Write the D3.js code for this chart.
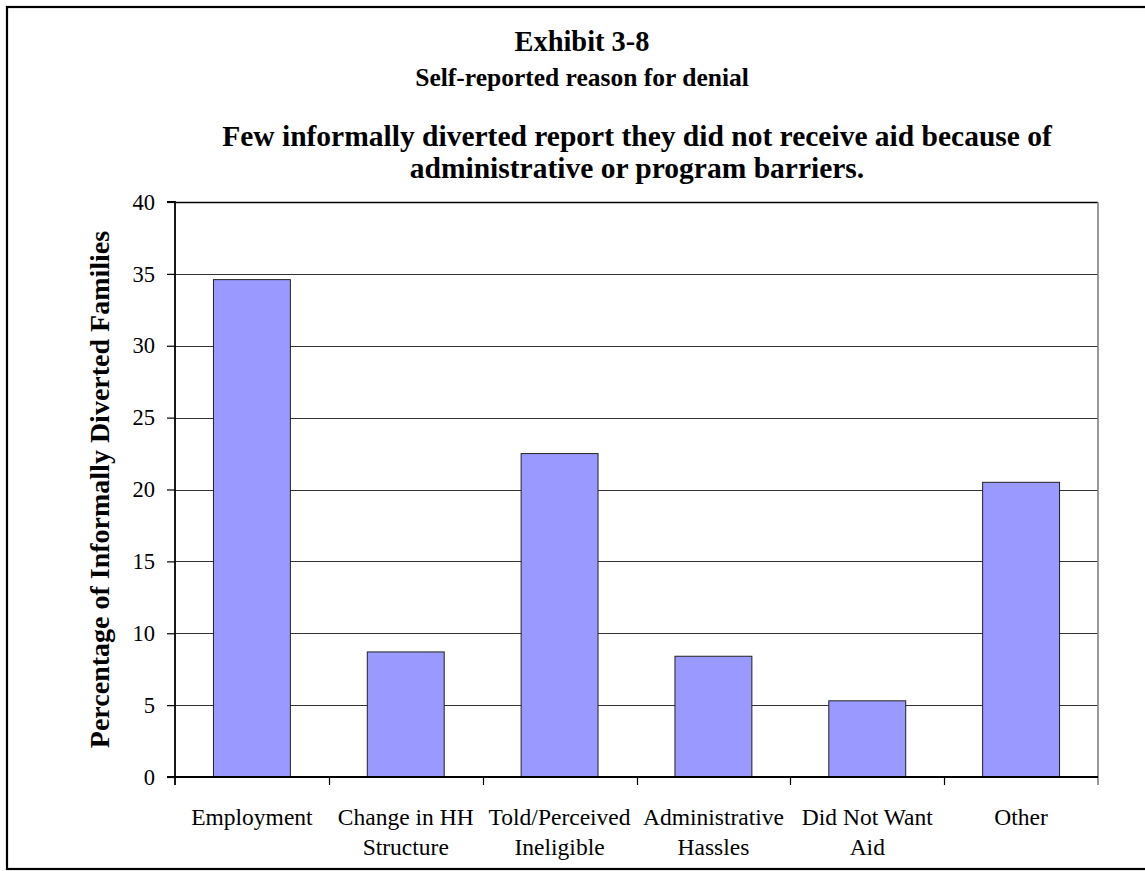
<!DOCTYPE html>
<html>
<head>
<meta charset="utf-8">
<script src="https://d3js.org/d3.v7.min.js"></script>
<style>
  html, body { margin: 0; padding: 0; background: #fff; overflow: hidden; }
  svg text { font-family: "Liberation Serif", "Times New Roman", serif; fill: #000; }
</style>
</head>
<body>
<svg id="chart" width="1145" height="871"></svg>
<script>
const categories = [
  ["Employment"],
  ["Change in HH", "Structure"],
  ["Told/Perceived", "Ineligible"],
  ["Administrative", "Hassles"],
  ["Did Not Want", "Aid"],
  ["Other"]
];
const values = [34.6, 8.7, 22.5, 8.4, 5.3, 20.5];
const yTicks = [0, 5, 10, 15, 20, 25, 30, 35, 40];
const exhibitTitle = "Exhibit 3-8";
const subTitle = "Self-reported reason for denial";
const chartTitle = ["Few informally diverted report they did not receive aid because of", "administrative or program barriers."];
const yAxisTitle = "Percentage of Informally Diverted Families";

const svg = d3.select("#chart");
const plot = { left: 175, right: 1098, top: 202, bottom: 777 };

// outer frame (right edge runs off the canvas as in the reference)
svg.append("rect").attr("x", 7).attr("y", 7).attr("width", 1150).attr("height", 862)
  .attr("fill", "none").attr("stroke", "#000").attr("stroke-width", 2.2);

const keys = categories.map((c, i) => i);
const x = d3.scaleBand().domain(keys).range([plot.left, plot.right]).paddingInner(0.5).paddingOuter(0.25);
const xb = d3.scaleBand().domain(keys).range([plot.left, plot.right]);
const y = d3.scaleLinear().domain([0, 40]).range([plot.bottom, plot.top]);

// gridlines
svg.append("g").selectAll("line").data(yTicks.filter(d => d > 0)).join("line")
  .attr("x1", plot.left).attr("x2", plot.right)
  .attr("y1", d => Math.round(y(d)) + 0.5).attr("y2", d => Math.round(y(d)) + 0.5)
  .attr("stroke", d => d === 40 ? "#000" : "#333").attr("stroke-width", d => d === 40 ? 1.5 : 1);

// right border
svg.append("line").attr("x1", plot.right).attr("x2", plot.right)
  .attr("y1", plot.top).attr("y2", plot.bottom + 8).attr("stroke", "#808080").attr("stroke-width", 1.6);

// bars
svg.append("g").selectAll("rect").data(values).join("rect")
  .attr("x", (d, i) => x(i))
  .attr("width", x.bandwidth())
  .attr("y", d => y(d))
  .attr("height", d => y(0) - y(d))
  .attr("fill", "#9999FF").attr("stroke", "#222").attr("stroke-width", 1);

// y axis
const yAxis = d3.axisLeft(y).tickValues(yTicks).tickSize(8).tickPadding(12).tickFormat(d3.format("d"));
const gy = svg.append("g").attr("transform", `translate(${plot.left},0)`).call(yAxis);
gy.select(".domain").attr("stroke", "#000").attr("stroke-width", 1.8).attr("d", `M-8,${plot.top}H0V${plot.bottom + 8}`);
gy.selectAll(".tick line").attr("stroke", "#000").attr("stroke-width", 1.2);
gy.selectAll("text").attr("font-size", 22.5).attr("font-family", "Liberation Serif").attr("fill", "#000");

// x axis (ticks at category boundaries)
svg.append("line").attr("x1", plot.left - 8).attr("x2", plot.right)
  .attr("y1", plot.bottom).attr("y2", plot.bottom).attr("stroke", "#000").attr("stroke-width", 1.8);
const bounds = keys.map(k => xb(k)).concat([plot.right]);
svg.append("g").selectAll("line").data(bounds.slice(1, -1)).join("line")
  .attr("x1", d => Math.round(d) + 0.5).attr("x2", d => Math.round(d) + 0.5)
  .attr("y1", plot.bottom).attr("y2", plot.bottom + 8)
  .attr("stroke", "#000").attr("stroke-width", 1.2);

// x labels
const xl = svg.append("g").selectAll("text").data(categories).join("text")
  .attr("x", (d, i) => xb(i) + xb.bandwidth() / 2)
  .attr("y", 825)
  .attr("text-anchor", "middle").attr("font-size", 23.5);
xl.selectAll("tspan").data(d => d).join("tspan")
  .attr("x", function() { return d3.select(this.parentNode).attr("x"); })
  .attr("dy", (d, i) => i === 0 ? 0 : 30)
  .text(d => d);

// titles
svg.append("text").attr("x", 582).attr("y", 51).attr("text-anchor", "middle")
  .attr("font-size", 28.4).attr("font-weight", "bold").text(exhibitTitle);
svg.append("text").attr("x", 582).attr("y", 86).attr("text-anchor", "middle")
  .attr("font-size", 25.5).attr("font-weight", "bold").text(subTitle);
svg.append("g").selectAll("text").data(chartTitle).join("text")
  .attr("x", 637).attr("y", (d, i) => 146 + i * 32).attr("text-anchor", "middle")
  .attr("font-size", 29.5).attr("font-weight", "bold").text(d => d);

// y axis title
svg.append("text").attr("transform", `translate(109,${(plot.top + plot.bottom) / 2}) rotate(-90)`)
  .attr("text-anchor", "middle").attr("font-size", 28).attr("font-weight", "bold").text(yAxisTitle);
</script>
</body>
</html>
